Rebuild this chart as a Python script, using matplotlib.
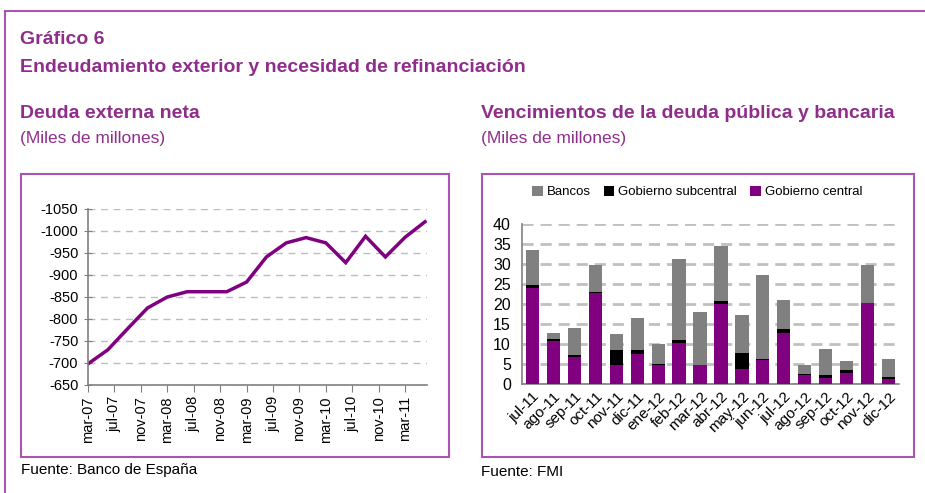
import matplotlib.pyplot as plt
from matplotlib.patches import Rectangle
from matplotlib.lines import Line2D

# Deuda externa neta (trimestral, mar-07 .. jun-11)
deuda = [-698, -730, -778, -825, -850, -862, -862, -862, -884,
         -941, -973, -985, -973, -928, -988, -941, -986, -1021]
meses_deuda = [3 * i for i in range(len(deuda))]
etiq_izq = ['mar-07', 'jul-07', 'nov-07', 'mar-08', 'jul-08', 'nov-08', 'mar-09',
            'jul-09', 'nov-09', 'mar-10', 'jul-10', 'nov-10', 'mar-11']
pos_etiq_izq = [4 * i for i in range(len(etiq_izq))]

# Vencimientos (miles de millones)
meses = ['jul-11', 'ago-11', 'sep-11', 'oct-11', 'nov-11', 'dic-11', 'ene-12', 'feb-12',
         'mar-12', 'abr-12', 'may-12', 'jun-12', 'jul-12', 'ago-12', 'sep-12', 'oct-12',
         'nov-12', 'dic-12']
gob_central = [23.9, 10.8, 6.8, 22.75, 4.7, 7.6, 4.75, 10.3, 4.7, 19.9, 3.75, 6.0,
               12.75, 2.3, 1.6, 2.8, 20.25, 1.3]
gob_subcentral = [0.85, 0.4, 0.5, 0.15, 3.9, 1.0, 0.15, 0.8, 0.05, 0.85, 4.0, 0.2,
                  1.05, 0.1, 0.6, 0.6, 0.05, 0.5]
bancos = [8.65, 1.55, 6.6, 6.9, 3.8, 7.8, 5.0, 20.15, 13.3, 13.65, 9.55, 21.1,
          7.3, 2.3, 6.5, 2.4, 9.45, 4.45]

W, H = 925, 493
PURPLE = '#800080'
TXT = '#8E2E8A'
FRAME = '#A855B0'

plt.rcParams['font.family'] = ['Liberation Sans', 'DejaVu Sans']

fig = plt.figure(figsize=(W / 100, H / 100), dpi=100)


def box(x0, y0, x1, y1):
    # pixel coords with origin top-left -> figure fraction rect
    return [x0 / W, 1 - y1 / H, (x1 - x0) / W, (y1 - y0) / H]


def fx(x):
    return x / W


def fy(y):
    return 1 - y / H


# marco exterior
fig.add_artist(Line2D([fx(5), 1], [fy(11), fy(11)], color=FRAME, lw=1.5))
fig.add_artist(Line2D([fx(5), fx(5)], [fy(11), 0], color=FRAME, lw=1.5))

# recuadros de los paneles
for x0, y0, x1, y1 in [(21, 174, 449, 457), (482, 174, 914, 457)]:
    fig.add_artist(Rectangle((fx(x0), fy(y1)), (x1 - x0) / W, (y1 - y0) / H,
                             fill=False, edgecolor=FRAME, lw=1.5))

# titulos
fig.text(fx(20), fy(40), 'Gráfico 6', fontweight='bold',
         fontsize=14, color=TXT, va='center')
fig.text(fx(20), fy(67), 'Endeudamiento exterior y necesidad de refinanciación',
         fontweight='bold', fontsize=14, color=TXT, va='center')
fig.text(fx(20), fy(114), 'Deuda externa neta', fontweight='bold',
         fontsize=14, color=TXT, va='center')
fig.text(fx(20), fy(138), '(Miles de millones)',
         fontsize=12.5, color=TXT, va='center')
fig.text(fx(481), fy(114), 'Vencimientos de la deuda pública y bancaria',
         fontweight='bold', fontsize=14, color=TXT, va='center')
fig.text(fx(481), fy(138), '(Miles de millones)',
         fontsize=12.5, color=TXT, va='center')
fig.text(fx(21), fy(470), 'Fuente: Banco de España',
         fontsize=11, color='black', va='center')
fig.text(fx(481), fy(472), 'Fuente: FMI',
         fontsize=11, color='black', va='center')

# --- grafico izquierdo ---
ax1 = fig.add_axes(box(88, 209, 427, 385))
ax1.plot(meses_deuda, deuda, color=PURPLE, lw=2.5, solid_joinstyle='miter')
ax1.set_xlim(0, 51.3)
ax1.set_ylim(-650, -1050)
ax1.set_yticks(range(-1050, -649, 50))
ax1.set_yticklabels([str(v) for v in range(-1050, -649, 50)])
ax1.set_xticks(pos_etiq_izq)
ax1.set_xticklabels(etiq_izq, rotation=90)
ax1.yaxis.grid(True, color='#BDBDBD', ls=(0, (5, 4)), lw=1)
ax1.set_axisbelow(True)
for s in ['top', 'right']:
    ax1.spines[s].set_visible(False)
for s in ['left', 'bottom']:
    ax1.spines[s].set_color('#808080')
    ax1.spines[s].set_linewidth(1.2)
ax1.tick_params(axis='y', direction='inout', length=6, color='#808080', labelsize=10.5, pad=4)
ax1.tick_params(axis='x', direction='out', length=5, color='#808080', labelsize=10.5, pad=3)

# --- grafico derecho ---
ax2 = fig.add_axes(box(522, 224, 899, 384))
x = range(len(meses))
base2 = [a + b for a, b in zip(gob_central, gob_subcentral)]
ax2.bar(x, gob_central, width=0.63, color=PURPLE, label='Gobierno central', zorder=3)
ax2.bar(x, gob_subcentral, width=0.63, bottom=gob_central, color='black',
        label='Gobierno subcentral', zorder=3)
ax2.bar(x, bancos, width=0.63, bottom=base2, color='#808080', label='Bancos', zorder=3)
ax2.set_xlim(-0.5, len(meses) - 0.5)
ax2.set_ylim(0, 40)
ax2.set_yticks(range(0, 41, 5))
ax2.set_xticks(list(x))
ax2.set_xticklabels(meses, rotation=45, ha='right', rotation_mode='anchor')
ax2.yaxis.grid(True, color='#C0C0C0', ls=(0, (4, 2.5)), lw=2)
ax2.set_axisbelow(True)
for s in ['top', 'right']:
    ax2.spines[s].set_visible(False)
for s in ['left', 'bottom']:
    ax2.spines[s].set_color('#808080')
    ax2.spines[s].set_linewidth(1.2)
ax2.tick_params(axis='y', length=0, labelsize=11.5, pad=8)
ax2.tick_params(axis='x', length=0, labelsize=11, pad=4)

h, l = ax2.get_legend_handles_labels()
order = [2, 1, 0]
ax2.legend([h[i] for i in order], [l[i] for i in order], loc='center',
           bbox_to_anchor=(0.465, 1.2), ncol=3, frameon=False, fontsize=9.5,
           handlelength=0.8, handleheight=0.8, handletextpad=0.3, columnspacing=1.0,
           borderaxespad=0)

fig.savefig('out.png', dpi=100)
